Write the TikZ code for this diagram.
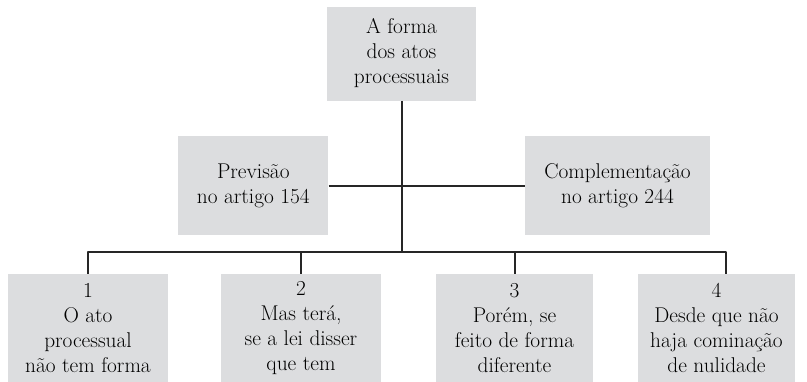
\documentclass[tikz,border=0pt]{standalone}
\usetikzlibrary{positioning}
\definecolor{boxgray}{RGB}{220,221,223}
\tikzset{
  caixa/.style={fill=boxgray, align=center, inner sep=0pt,
    font=\fontsize{16}{18.75}\selectfont},
  liga/.style={line width=1.5pt, draw=black!85}
}
\begin{document}
\begin{tikzpicture}[x=0.75pt, y=-0.75pt, line join=round]
	\useasboundingbox (0,0) rectangle (807,382);
	% topo
	\node[caixa, minimum width=111.75pt, minimum height=70.5pt] (forma) at (401.5,53.5) {A forma\\dos atos\\processuais};
	% meio
	\node[caixa, minimum width=112.5pt, minimum height=74pt] (prev) at (253.3,185.5) {Previs\~ao\\no artigo 154};
	\node[caixa, minimum width=139pt, minimum height=74pt] (comp) at (617.5,185.5) {Complementa\c{c}\~ao\\no artigo 244};
	% base
	\node[caixa, minimum width=120pt, minimum height=81pt] (um) at (88,328) {1\\O ato\\processual\\n\~ao tem forma};
	\node[caixa, minimum width=120pt, minimum height=81pt] (dois) at (301,328) {2\\Mas ter\'a,\\se a lei disser\\que tem};
	\node[caixa, minimum width=118pt, minimum height=81pt] (tres) at (514.5,328) {3\\Por\'em, se\\feito de forma\\diferente};
	\node[caixa, minimum width=118pt, minimum height=81pt] (quatro) at (716.5,328) {4\\Desde que n\~ao\\haja comina\c{c}\~ao\\de nulidade};
	\coordinate (barra) at (401.5,252);
	\draw[liga] (forma.south) -- (barra);
	\draw[liga] (prev.east) -- (comp.west);
	\draw[liga] (um.north) |- (barra) -| ([xshift=6.75pt]quatro.north);
	\draw[liga] (barra -| dois.north) -- (dois.north);
	\draw[liga] (barra -| tres.north) -- (tres.north);
\end{tikzpicture}
\end{document}
